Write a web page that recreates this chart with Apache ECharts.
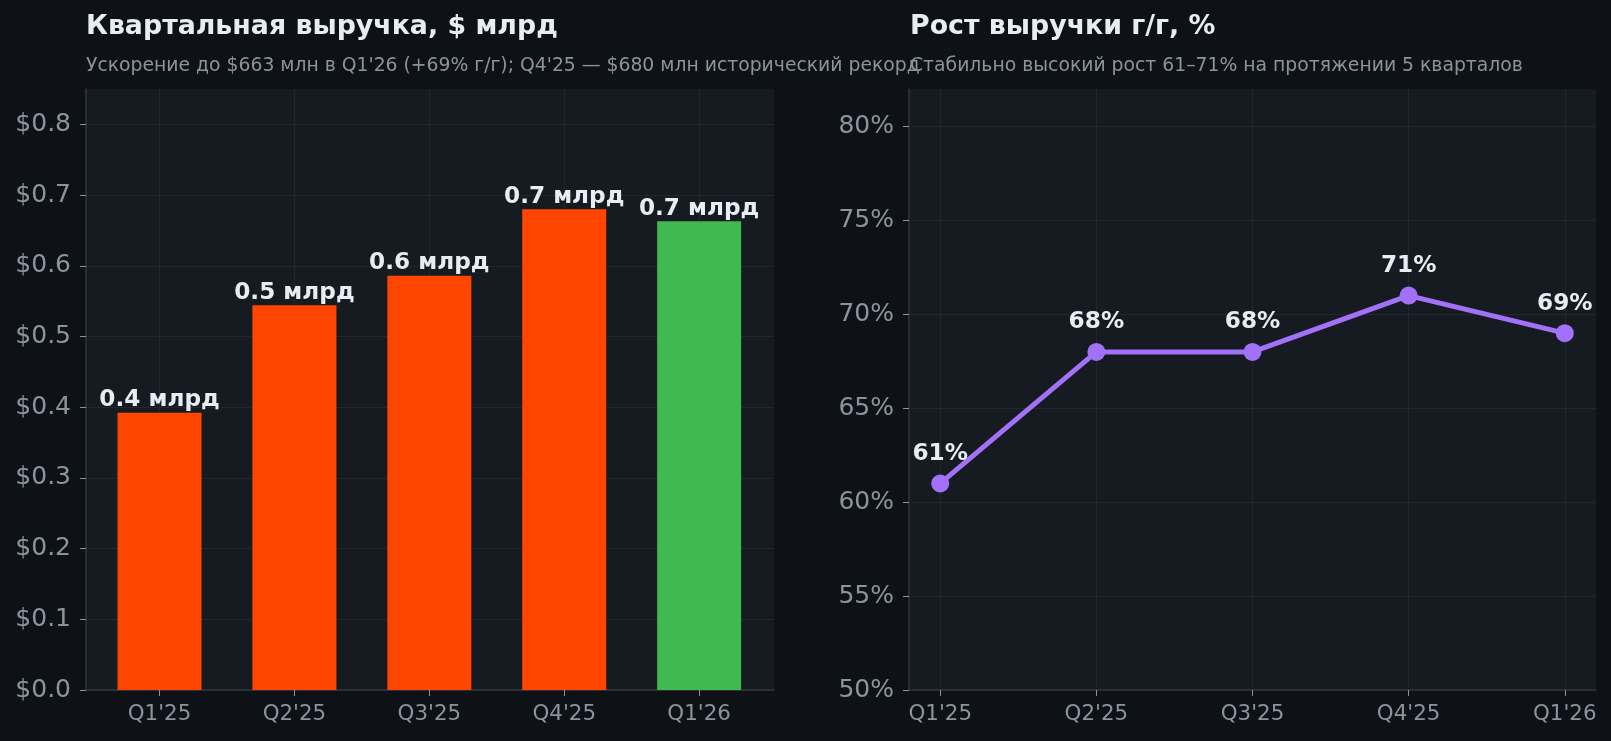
<!DOCTYPE html>
<html>
<head>
<meta charset="utf-8">
<script src="https://cdn.jsdelivr.net/npm/echarts@6/dist/echarts.min.js"></script>
<style>
  html, body { margin: 0; padding: 0; background: #0e1217; }
  #chart { width: 1611px; height: 741px; }
</style>
</head>
<body>
<div id="chart"></div>
<script>
// Data
const quarters = ["Q1'25", "Q2'25", "Q3'25", "Q4'25", "Q1'26"];
const revenueBn = [0.392, 0.544, 0.586, 0.68, 0.663];
const growthPct = [61, 68, 68, 71, 69];
const revenueTicks = [0, 0.1, 0.2, 0.3, 0.4, 0.5, 0.6, 0.7, 0.8];
const growthTicks = [50, 55, 60, 65, 70, 75, 80];

const FONT = "DejaVu Sans";
const TEXT = "#e6edf3";
const MUTED = "#8b949e";
const AXIS = "#30363d";
const GRID = "#22272e";
const ORANGE = "#ff4500";
const GREEN = "#3fb950";
const PURPLE = "#a371f7";

const quarterIdx = quarters.map((q, i) => i);

function xAxisFor(gridIndex, min, max) {
  return {
    type: "value",
    gridIndex: gridIndex,
    min: min,
    max: max,
    axisLine: { show: true, onZero: false, lineStyle: { color: AXIS, width: 1.5 } },
    axisTick: {
      show: true,
      customValues: quarterIdx,
      length: 6,
      lineStyle: { color: MUTED },
    },
    axisLabel: {
      customValues: quarterIdx,
      formatter: (v) => quarters[v],
      color: MUTED,
      fontFamily: FONT,
      fontSize: 21.4,
      margin: 14,
    },
    splitLine: { show: true, lineStyle: { color: GRID, width: 1 } },
  };
}

function yAxisFor(gridIndex, min, max, ticks, fmt) {
  return {
    type: "value",
    gridIndex: gridIndex,
    min: min,
    max: max,
    axisLine: { show: true, onZero: false, lineStyle: { color: AXIS, width: 1.5 } },
    axisTick: {
      show: true,
      customValues: ticks,
      length: 6,
      lineStyle: { color: MUTED },
    },
    axisLabel: {
      customValues: ticks,
      formatter: fmt,
      color: MUTED,
      fontFamily: FONT,
      fontSize: 25,
      margin: 15,
    },
    splitLine: { show: true, lineStyle: { color: GRID, width: 1 } },
  };
}

function titleAt(text, left, top, size, bold, color) {
  return {
    text: text,
    left: left,
    top: top,
    padding: 0,
    textStyle: {
      color: color,
      fontFamily: FONT,
      fontSize: size,
      fontWeight: bold ? "bold" : "normal",
    },
  };
}

const chart = echarts.init(document.getElementById("chart"));
const option = {
  backgroundColor: "#0e1217",
  animation: false,
  title: [
    titleAt("Квартальная выручка, $ млрд", 86, 14, 26.8, true, TEXT),
    titleAt(
      "Ускорение до $663 млн в Q1'26 (+69% г/г); Q4'25 — $680 млн исторический рекорд",
      86, 57, 18.8, false, MUTED
    ),
    titleAt("Рост выручки г/г, %", 910, 14, 26.8, true, TEXT),
    titleAt("Стабильно высокий рост 61–71% на протяжении 5 кварталов", 910, 57, 18.8, false, MUTED),
  ],
  grid: [
    {
      left: 86, top: 89, width: 688, height: 601,
      show: true, backgroundColor: "#161b22", borderWidth: 0,
      outerBoundsMode: "none",
    },
    {
      left: 909, top: 89, width: 687, height: 601,
      show: true, backgroundColor: "#161b22", borderWidth: 0,
      outerBoundsMode: "none",
    },
  ],
  xAxis: [xAxisFor(0, -0.545, 4.555), xAxisFor(1, -0.2, 4.2)],
  yAxis: [
    yAxisFor(0, 0, 0.85, revenueTicks, (v) => "$" + v.toFixed(1)),
    yAxisFor(1, 50, 82, growthTicks, (v) => v + "%"),
  ],
  series: [
    {
      type: "bar",
      xAxisIndex: 0,
      yAxisIndex: 0,
      barWidth: 84,
      data: revenueBn.map((v, i) => [i, v]),
      itemStyle: {
        color: (p) => (p.dataIndex === revenueBn.length - 1 ? GREEN : ORANGE),
      },
      label: {
        show: true,
        position: "top",
        distance: 1,
        formatter: (p) => p.value[1].toFixed(1) + " млрд",
        color: TEXT,
        fontFamily: FONT,
        fontSize: 23.2,
        fontWeight: "bold",
      },
    },
    {
      type: "line",
      xAxisIndex: 1,
      yAxisIndex: 1,
      data: growthPct.map((v, i) => [i, v]),
      symbol: "circle",
      symbolSize: 18,
      lineStyle: { color: PURPLE, width: 5 },
      itemStyle: { color: PURPLE },
      label: {
        show: true,
        position: "top",
        distance: 9,
        formatter: (p) => p.value[1] + "%",
        color: TEXT,
        fontFamily: FONT,
        fontSize: 23.2,
        fontWeight: "bold",
      },
    },
  ],
};
chart.setOption(option);
</script>
</body>
</html>
